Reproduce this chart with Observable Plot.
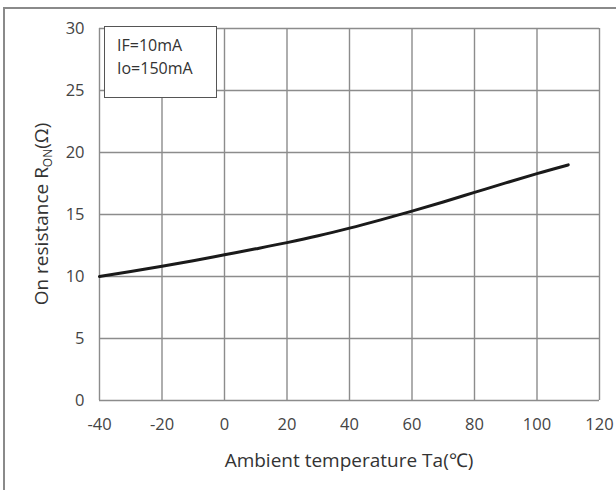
<!DOCTYPE html>
<html>
<head>
<meta charset="utf-8">
<script src="https://cdn.jsdelivr.net/npm/d3@7"></script>
<script src="https://cdn.jsdelivr.net/npm/@observablehq/plot@0.6"></script>
<style>
  html, body { margin: 0; padding: 0; background: #fff; }
  #wrap { position: relative; width: 616px; height: 490px; overflow: hidden; font-family: "Open Sans", sans-serif; }
  #frameL { position: absolute; left: 3px; top: 7px; width: 2px; height: 490px; background: #8a8a8a; }
  #frameT { position: absolute; left: 3px; top: 7px; width: 620px; height: 2px; background: #8a8a8a; }
  #legend { position: absolute; left: 104px; top: 26px; width: 113px; height: 72px; border: 1.5px solid #555; background: #fff; color: #333; font-size: 16px; line-height: 23px; padding: 7px 0 0 12px; box-sizing: border-box; }
  svg g[aria-label$="tick label"] text { font-size: 16.5px; }
</style>
</head>
<body>
<div id="wrap">
  <div id="frameL"></div>
  <div id="frameT"></div>
</div>
<script>
const temps = [-40, -30, -20, -10, 0, 10, 20, 30, 40, 50, 60, 70, 80, 90, 100, 110];
const ron = [10, 10.4, 10.82, 11.27, 11.75, 12.23, 12.73, 13.28, 13.9, 14.57, 15.27, 16.01, 16.78, 17.55, 18.3, 19.0];
const xTicks = [-40, -20, 0, 20, 40, 60, 80, 100, 120];
const yTicks = [0, 5, 10, 15, 20, 25, 30];
const legendLines = ["IF=10mA", "Io=150mA"];
const xTitle = "Ambient temperature Ta(℃)";
const yTitleParts = ["On resistance R", "ON", "(Ω)"];

const data = temps.map((t, i) => ({t, r: ron[i]}));

const chart = Plot.plot({
  width: 616,
  height: 490,
  marginLeft: 99,
  marginRight: 17,
  marginTop: 28,
  marginBottom: 90,
  style: {fontFamily: "'Open Sans', sans-serif", fontSize: "16px", color: "#444", background: "transparent"},
  x: {domain: [-40, 120], ticks: xTicks},
  y: {domain: [0, 30], ticks: yTicks},
  marks: [
    Plot.gridX(xTicks, {stroke: "#8c8c8c", strokeOpacity: 1, strokeWidth: 1.4}),
    Plot.gridY(yTicks, {stroke: "#8c8c8c", strokeOpacity: 1, strokeWidth: 1.4}),
    Plot.axisX(xTicks, {tickSize: 0, tickPadding: 18, label: null, fill: "#444", tickFormat: d => String(d)}),
    Plot.axisY(yTicks, {tickSize: 0, tickPadding: 15, label: null, fill: "#444", tickFormat: d => String(d)}),
    Plot.line(data, {x: "t", y: "r", curve: "monotone-x", stroke: "#1a1a1a", strokeWidth: 3})
  ]
});
chart.style.position = "absolute";
chart.style.left = "0px";
chart.style.top = "0px";
document.getElementById("wrap").appendChild(chart);

const svg = d3.select(chart);
svg.append("text")
  .attr("x", (99 + 599) / 2)
  .attr("y", 467)
  .attr("text-anchor", "middle")
  .attr("fill", "#333")
  .attr("font-size", 19)
  .text(xTitle);

const yt = svg.append("text")
  .attr("transform", "translate(48,214) rotate(-90)")
  .attr("text-anchor", "middle")
  .attr("fill", "#333")
  .attr("font-size", 19);
yt.append("tspan").text(yTitleParts[0]);
yt.append("tspan").attr("font-size", 12).attr("dy", 4).text(yTitleParts[1]);
yt.append("tspan").attr("dy", -4).text(yTitleParts[2]);

const lg = document.createElement("div");
lg.id = "legend";
lg.innerHTML = legendLines.map(s => `<div>${s}</div>`).join("");
document.getElementById("wrap").appendChild(lg);
</script>
</body>
</html>
